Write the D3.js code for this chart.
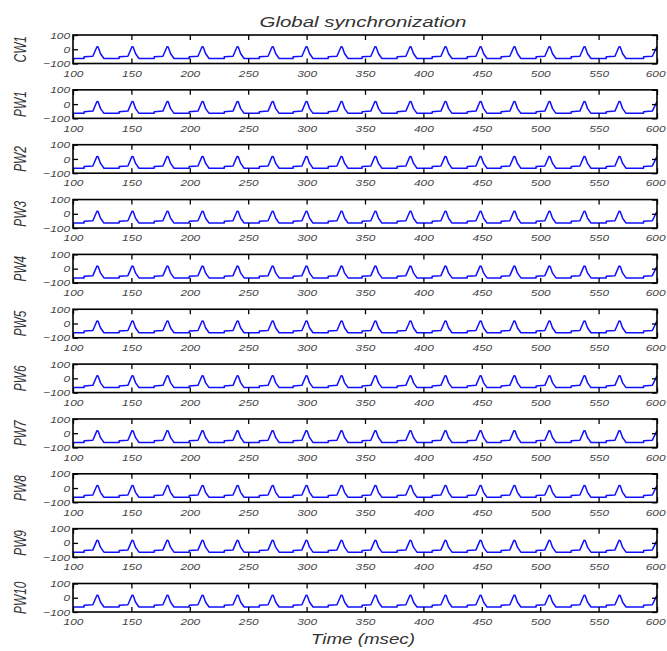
<!DOCTYPE html>
<html>
<head>
<meta charset="utf-8">
<script src="https://cdn.jsdelivr.net/npm/d3@7/dist/d3.min.js"></script>
<style>
  html, body { margin: 0; padding: 0; background: #fff; }
  svg { display: block; }
  text { font-family: "Liberation Sans", Arial, Helvetica, sans-serif; font-style: italic; }
</style>
</head>
<body>
<div id="chart"></div>
<script>
// ---------------- data ----------------
const chartTitle = "Global synchronization";
const xAxisLabel = "Time (msec)";
const channels = ["CW1", "PW1", "PW2", "PW3", "PW4", "PW5", "PW6", "PW7", "PW8", "PW9", "PW10"];
const xTicks = [100, 150, 200, 250, 300, 350, 400, 450, 500, 550, 600];
const yTicks = [-100, 0, 100];
// membrane potential trace (time in ms, value in mV);
// all channels fire synchronously with the same waveform
const trace = [
  [100, -65],
  [109.5, -65], [109.5, -53], [117, -49], [120.5, 18], [121.5, 16], [123.5, -30], [124.5, -42], [126.5, -65],
  [139.5, -65], [139.5, -53], [147, -49], [150.5, 18], [151.5, 16], [153.5, -30], [154.5, -42], [156.5, -65],
  [169.5, -65], [169.5, -53], [177, -49], [180.5, 18], [181.5, 16], [183.5, -30], [184.5, -42], [186.5, -65],
  [199.5, -65], [199.5, -53], [207, -49], [210.5, 18], [211.5, 16], [213.5, -30], [214.5, -42], [216.5, -65],
  [229.5, -65], [229.5, -53], [237, -49], [240.5, 18], [241.5, 16], [243.5, -30], [244.5, -42], [246.5, -65],
  [259.5, -65], [259.5, -53], [267, -49], [270.5, 18], [271.5, 16], [273.5, -30], [274.5, -42], [276.5, -65],
  [288.5, -65], [288.5, -53], [296, -49], [299.5, 18], [300.5, 16], [302.5, -30], [303.5, -42], [305.5, -65],
  [318.5, -65], [318.5, -53], [326, -49], [329.5, 18], [330.5, 16], [332.5, -30], [333.5, -42], [335.5, -65],
  [347.5, -65], [347.5, -53], [355, -49], [358.5, 18], [359.5, 16], [361.5, -30], [362.5, -42], [364.5, -65],
  [377.5, -65], [377.5, -53], [385, -49], [388.5, 18], [389.5, 16], [391.5, -30], [392.5, -42], [394.5, -65],
  [407.5, -65], [407.5, -53], [415, -49], [418.5, 18], [419.5, 16], [421.5, -30], [422.5, -42], [424.5, -65],
  [437.5, -65], [437.5, -53], [445, -49], [448.5, 18], [449.5, 16], [451.5, -30], [452.5, -42], [454.5, -65],
  [466.5, -65], [466.5, -53], [474, -49], [477.5, 18], [478.5, 16], [480.5, -30], [481.5, -42], [483.5, -65],
  [496.5, -65], [496.5, -53], [504, -49], [507.5, 18], [508.5, 16], [510.5, -30], [511.5, -42], [513.5, -65],
  [526.5, -65], [526.5, -53], [534, -49], [537.5, 18], [538.5, 16], [540.5, -30], [541.5, -42], [543.5, -65],
  [556.5, -65], [556.5, -53], [564, -49], [567.5, 18], [568.5, 16], [570.5, -30], [571.5, -42], [573.5, -65],
  [588.5, -65], [588.5, -53], [596, -49], [600, 18]
];

// ---------------- layout ----------------
const W = 667, H = 651;
const plotLeft = 73, plotRight = 657;
const firstTop = 35, panelStep = 54.85, panelH = 28.5;
const stretch = 1.25; // horizontal stretch of the original raster text

const svg = d3.select("#chart").append("svg").attr("width", W).attr("height", H);

const x = d3.scaleLinear().domain([100, 600]).range([plotLeft, plotRight]);

channels.forEach((name, i) => {
  const top = firstTop + i * panelStep;
  const y = d3.scaleLinear().domain([-100, 100]).range([top + panelH, top]);
  const g = svg.append("g");

  // trace
  g.append("path")
    .datum(trace)
    .attr("fill", "none")
    .attr("stroke", "#1010ff")
    .attr("stroke-width", 1.5)
    .attr("stroke-linejoin", "round")
    .attr("d", d3.line().x(d => x(d[0])).y(d => y(d[1])));

  // bottom axis with labels (ticks inward)
  const bx = g.append("g").attr("transform", `translate(0,${top + panelH})`)
    .call(d3.axisBottom(x).tickValues(xTicks).tickSize(-5).tickPadding(6.5).tickFormat(d3.format("d")));
  // top axis ticks only
  const tx = g.append("g").attr("transform", `translate(0,${top})`)
    .call(d3.axisTop(x).tickValues(xTicks).tickSize(-5).tickFormat(""));
  // left axis
  const ly = g.append("g").attr("transform", `translate(${plotLeft},0)`)
    .call(d3.axisLeft(y).tickValues(yTicks).tickSize(-5).tickPadding(3 / stretch).tickFormat(d3.format("d")));
  // right axis ticks only
  const ry = g.append("g").attr("transform", `translate(${plotRight},0)`)
    .call(d3.axisRight(y).tickValues(yTicks).tickSize(-5).tickFormat(""));

  [bx, tx, ly, ry].forEach(a => {
    a.select(".domain").remove();
    a.selectAll(".tick line").attr("stroke", "#000").attr("stroke-width", 1.3);
    a.selectAll(".tick text")
      .attr("fill", "#444")
      .attr("font-size", 9.5)
      .attr("font-family", "'Liberation Sans', Arial, sans-serif")
      .attr("font-style", "italic")
      .attr("transform", `scale(${stretch},1)`);
  });
  // keep the last x label inside the page
  bx.selectAll(".tick text").filter(d => d === 600).attr("x", -1.5);

  // box
  g.append("rect")
    .attr("x", plotLeft).attr("y", top)
    .attr("width", plotRight - plotLeft).attr("height", panelH)
    .attr("fill", "none").attr("stroke", "#000").attr("stroke-width", 1.6);

  // channel label
  g.append("text")
    .attr("transform", `translate(20,${top + panelH / 2}) rotate(-90) scale(0.72,1)`)
    .attr("text-anchor", "middle")
    .attr("dy", "0.36em")
    .attr("font-size", 16.5)
    .attr("fill", "#333")
    .text(name);
});

// title
svg.append("text")
  .attr("x", 363).attr("y", 26.5)
  .attr("text-anchor", "middle")
  .attr("font-size", 15.5)
  .attr("fill", "#333")
  .attr("textLength", 207)
  .attr("lengthAdjust", "spacingAndGlyphs")
  .text(chartTitle);

// x axis label
svg.append("text")
  .attr("x", 363).attr("y", 644)
  .attr("text-anchor", "middle")
  .attr("font-size", 15.5)
  .attr("fill", "#333")
  .attr("textLength", 104)
  .attr("lengthAdjust", "spacingAndGlyphs")
  .text(xAxisLabel);
</script>
</body>
</html>
